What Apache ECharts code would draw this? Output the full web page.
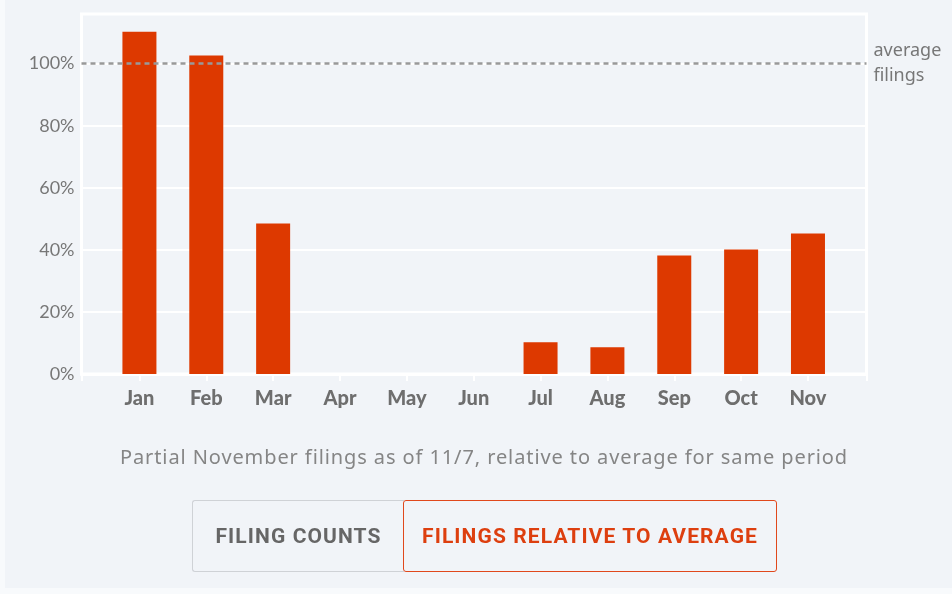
<!DOCTYPE html>
<html>
<head>
<meta charset="utf-8">
<script src="https://cdn.jsdelivr.net/npm/echarts@6/dist/echarts.min.js"></script>
<style>
  html, body { margin: 0; padding: 0; background: #f8fafc; }
  .panel { position: absolute; left: 5px; top: 0; width: 947px; height: 588px; background: #f1f4f8; }
  #chart { position: absolute; left: 0; top: 0; width: 952px; height: 594px; }
  .note { position: absolute; left: 0; width: 968px; top: 443px; line-height: 28px; text-align: center;
    font-family: "Noto Sans", sans-serif; font-size: 20px; letter-spacing: 0.9px; color: #858585; }
  .btn { position: absolute; top: 500px; height: 72px; box-sizing: border-box; line-height: 70px;
    text-align: center; font-family: "Roboto", sans-serif; font-weight: bold;
    font-size: 21px; letter-spacing: 1.1px; border-radius: 3px; }
  .btn.off { left: 192px; width: 212px; border: 1.5px solid #cfd2d6; color: #666; border-right: none; border-radius: 3px 0 0 3px; }
  .btn.on { left: 403px; width: 374px; border: 1.5px solid #e0481c; color: #dd3f0f; }
</style>
</head>
<body>
<div class="panel"></div>
<div id="chart"></div>
<div class="note">Partial November filings as of 11/7, relative to average for same period</div>
<div class="btn off">FILING COUNTS</div>
<div class="btn on">FILINGS RELATIVE TO AVERAGE</div>
<script>
// 数据
const months = ['Jan', 'Feb', 'Mar', 'Apr', 'May', 'Jun', 'Jul', 'Aug', 'Sep', 'Oct', 'Nov']
const relative = [110.3, 102.6, 48.5, 0, 0, 0, 10.2, 8.6, 38.2, 40.1, 45.3]
const averageLevel = 100
const averageLabel = ['average', 'filings']

const myChart = echarts.init(document.getElementById('chart'))
myChart.setOption({
  animation: false,
  grid: [
    // bars
    { left: 106, right: 110.6, top: 14, bottom: 220 },
    // frame
    { left: 81.5, right: 85.5, top: 14, bottom: 220, show: true, borderColor: '#fff', borderWidth: 3, backgroundColor: 'transparent' }
  ],
  xAxis: [
    {
      gridIndex: 0,
      type: 'category',
      data: months,
      axisLine: { show: false },
      axisTick: { show: true, alignWithLabel: true, length: 7, lineStyle: { color: '#fff', width: 2 } },
      axisLabel: {
        margin: 15,
        color: '#6e6e6e',
        fontFamily: 'Lato',
        fontWeight: 900,
        fontSize: 20
      }
    },
    {
      gridIndex: 1,
      type: 'value',
      min: 0,
      max: 1,
      interval: 1,
      axisLine: { show: true, lineStyle: { color: '#fff', width: 3 } },
      axisTick: { show: true, length: 7, lineStyle: { color: '#fff', width: 2 } },
      axisLabel: { show: false },
      splitLine: { show: false }
    }
  ],
  yAxis: [
    {
      gridIndex: 0,
      min: 0,
      max: 116,
      interval: 20,
      show: false,
      splitLine: { show: false }
    },
    {
      gridIndex: 1,
      min: 0,
      max: 116,
      interval: 20,
      axisLine: { show: false },
      axisTick: { show: false },
      axisLabel: {
        margin: 7,
        color: '#777',
        fontFamily: 'Lato',
        fontSize: 18,
        formatter: (v) => v > 100 ? '' : v + '%'
      },
      splitLine: { lineStyle: { color: '#fff', width: 2 } }
    }
  ],
  series: [
    {
      type: 'line',
      xAxisIndex: 1,
      yAxisIndex: 1,
      data: [],
      z: 1,
      markLine: {
        silent: true,
        symbol: 'none',
        lineStyle: { color: '#999', type: [5, 4], width: 2.5 },
        label: {
          position: 'end',
          distance: 7,
          formatter: averageLabel.join('\n'),
          color: '#777',
          fontFamily: 'Noto Sans',
          fontSize: 18,
          lineHeight: 25,
          padding: [3, 0, 0, 0]
        },
        data: [{ yAxis: averageLevel }]
      }
    },
    {
      name: 'relative',
      type: 'bar',
      xAxisIndex: 0,
      yAxisIndex: 0,
      data: relative,
      barWidth: 34,
      z: 3,
      itemStyle: { color: '#dd3900' }
    }
  ]
})
window.addEventListener('resize', () => myChart.resize())
</script>
</body>
</html>
